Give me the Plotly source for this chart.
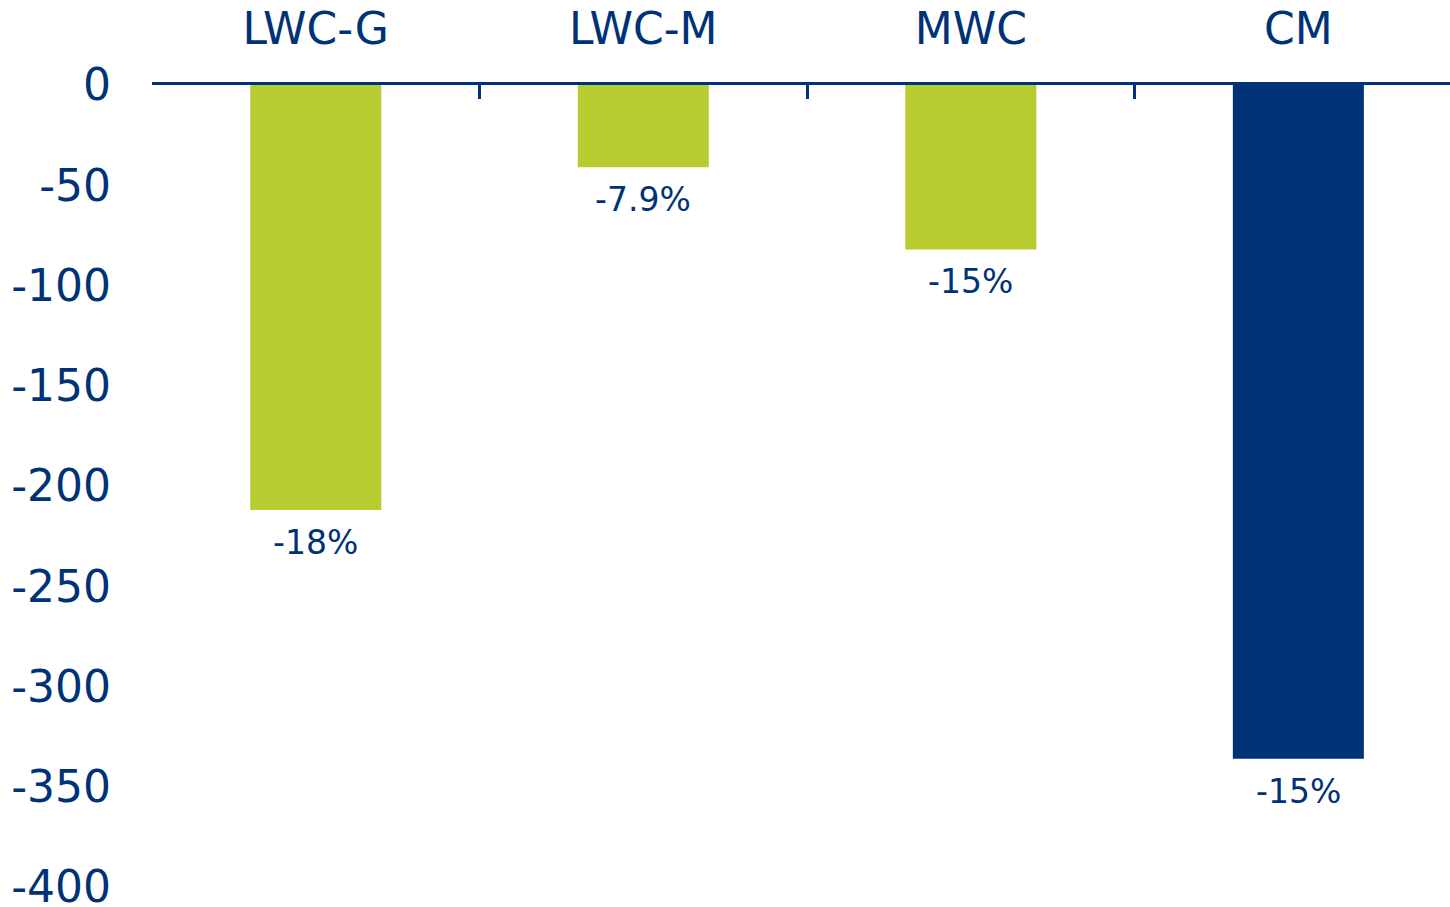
import plotly.graph_objects as go

# data
categories = ["LWC-G", "LWC-M", "MWC", "CM"]
values = [-212, -41, -82, -336]
pct_labels = ["-18%", "-7.9%", "-15%", "-15%"]
bar_colors = ["#B8CC32", "#B8CC32", "#B8CC32", "#003278"]
y_ticks = [0, -50, -100, -150, -200, -250, -300, -350, -400]

NAVY = "#003278"
FONT = "DejaVu Sans"

fig = go.Figure()
fig.add_trace(go.Bar(
    x=categories,
    y=values,
    marker=dict(color=bar_colors, line=dict(width=0)),
    width=0.4,
    hoverinfo="skip",
))

# percentage labels sit just below each bar end
for cat, val, lab in zip(categories, values, pct_labels):
    fig.add_annotation(
        x=cat, y=val, text=lab, showarrow=False,
        yanchor="top", yshift=-11,
        font=dict(family=FONT, size=33, color=NAVY),
    )

fig.update_layout(
    width=1450,
    height=907,
    margin=dict(l=152, r=0, t=85, b=20, autoexpand=False),
    paper_bgcolor="white",
    plot_bgcolor="white",
    showlegend=False,
    font=dict(family=FONT, color=NAVY),
)
fig.update_xaxes(
    side="top",
    range=[-0.5, 3.463],  # last category runs off the right edge
    automargin=False,
    showline=True, linecolor=NAVY, linewidth=3,
    ticks="inside", tickson="boundaries", ticklen=14, tickwidth=3, tickcolor=NAVY,
    tickfont=dict(family=FONT, size=44, color=NAVY),
    ticklabelstandoff=20,
    ticklabeloverflow="allow",
    showgrid=False, zeroline=False,
)
fig.update_yaxes(
    range=[-400, 0],
    automargin=False,
    tickvals=y_ticks,
    ticktext=[str(v) for v in y_ticks],
    tickfont=dict(family=FONT, size=44, color=NAVY),
    ticklabelstandoff=40,
    ticklabeloverflow="allow",
    showline=False, showgrid=False, zeroline=False,
)

# drop the browser's default 8px body margin so the figure fills the window
fig.write_html(
    "out.html",
    config={"displayModeBar": False},
    post_script="document.body.style.margin='0';",
)
